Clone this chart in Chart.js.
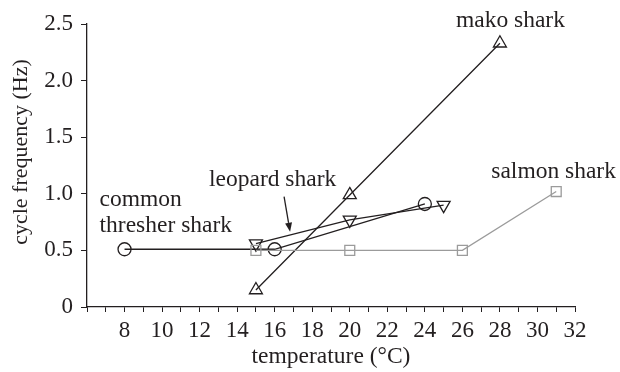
<!DOCTYPE html>
<html>
<head>
<meta charset="utf-8">
<script src="https://cdn.jsdelivr.net/npm/chart.js@4/dist/chart.umd.min.js"></script>
<style>
  html, body { margin: 0; padding: 0; background: #ffffff; }
  #wrap { width: 620px; height: 372px; }
</style>
</head>
<body>
<div id="wrap"><canvas id="c" width="620" height="372"></canvas></div>
<script>
// Swimming tail-beat frequency vs water temperature for four shark species
const threshTemp  = [8, 16, 24];
const threshFreq  = [0.51, 0.51, 0.91];
const leopardTemp = [15, 20, 25];
const leopardFreq = [0.56, 0.77, 0.90];
const makoTemp    = [15, 20, 28];
const makoFreq    = [0.15, 0.99, 2.33];
const salmonTemp  = [15, 20, 26, 31];
const salmonFreq  = [0.5, 0.5, 0.5, 1.02];

const yTickValues = [0, 0.5, 1.0, 1.5, 2.0, 2.5];
const yTickLabels = ['0', '0.5', '1.0', '1.5', '2.0', '2.5'];
const xLabelled   = [8, 10, 12, 14, 16, 18, 20, 22, 24, 26, 28, 30, 32];

const xTitle = 'temperature (°C)';
const yTitle = 'cycle frequency (Hz)';

// species labels, anchored in data units
const speciesLabels = [
  { text: 'mako shark',     x: 28.56, y: 2.47,  align: 'center' },
  { text: 'salmon shark',   x: 30.86, y: 1.14,  align: 'center' },
  { text: 'leopard shark',  x: 15.89, y: 1.07,  align: 'center' },
  { text: 'common',         x: 6.67,  y: 0.89,  align: 'left' },
  { text: 'thresher shark', x: 6.67,  y: 0.66,  align: 'left' }
];
// pointer from the leopard shark label to its line
const pointerFrom = { x: 16.50, y: 0.975 };
const pointerTo   = { x: 16.82, y: 0.665 };

const INK = '#231f20';
const GREY = '#9b9b9b';
const FONT = '"Liberation Serif", "Times New Roman", serif';
const LABEL_SIZE = 23.5;
const TICK_SIZE = 23;
const YTITLE_SIZE = 22;

function pts(xs, ys) { return xs.map((x, i) => ({ x: x, y: ys[i] })); }

function series(label, xs, ys, color, style, rot, radius) {
  return {
    label: label,
    data: pts(xs, ys),
    borderColor: color,
    borderWidth: 1.3,
    pointStyle: style,
    rotation: rot,
    pointRadius: radius,
    pointHoverRadius: radius,
    pointBorderColor: color,
    pointBackgroundColor: 'rgba(0,0,0,0)',
    pointBorderWidth: 1.3,
    showLine: true,
    fill: false,
    tension: 0
  };
}

const annotations = {
  id: 'annotations',
  afterDraw(chart) {
    const ctx = chart.ctx;
    const xs = chart.scales.x, ys = chart.scales.y;
    ctx.save();
    ctx.fillStyle = INK;
    ctx.font = LABEL_SIZE + 'px ' + FONT;
    ctx.textBaseline = 'alphabetic';
    speciesLabels.forEach(l => {
      ctx.textAlign = l.align;
      ctx.fillText(l.text, xs.getPixelForValue(l.x), ys.getPixelForValue(l.y));
    });

    // arrow
    const x0 = xs.getPixelForValue(pointerFrom.x), y0 = ys.getPixelForValue(pointerFrom.y);
    const x1 = xs.getPixelForValue(pointerTo.x),   y1 = ys.getPixelForValue(pointerTo.y);
    const ang = Math.atan2(y1 - y0, x1 - x0);
    const headLen = 9, headW = 3.5;
    const bx = x1 - Math.cos(ang) * headLen, by = y1 - Math.sin(ang) * headLen;
    ctx.strokeStyle = INK;
    ctx.lineWidth = 1.3;
    ctx.beginPath();
    ctx.moveTo(x0, y0);
    ctx.lineTo(bx, by);
    ctx.stroke();
    ctx.beginPath();
    ctx.moveTo(x1, y1);
    ctx.lineTo(bx + Math.sin(ang) * headW, by - Math.cos(ang) * headW);
    ctx.lineTo(bx - Math.sin(ang) * headW, by + Math.cos(ang) * headW);
    ctx.closePath();
    ctx.fill();

    // axis titles
    ctx.textAlign = 'center';
    ctx.textBaseline = 'middle';
    ctx.fillText(xTitle, (chart.chartArea.left + chart.chartArea.right) / 2, 357);
    ctx.font = YTITLE_SIZE + 'px ' + FONT;
    ctx.translate(21, 152);
    ctx.rotate(-Math.PI / 2);
    ctx.fillText(yTitle, 0, 0);
    ctx.restore();
  }
};

new Chart(document.getElementById('c'), {
  type: 'scatter',
  data: {
    datasets: [
      series('salmon shark', salmonTemp, salmonFreq, GREY, 'rect', 0, 7),
      series('common thresher shark', threshTemp, threshFreq, INK, 'circle', 0, 6.5),
      series('leopard shark', leopardTemp, leopardFreq, INK, 'triangle', 180, 7.5),
      series('mako shark', makoTemp, makoFreq, INK, 'triangle', 0, 7.5)
    ]
  },
  options: {
    responsive: false,
    animation: false,
    devicePixelRatio: 1,
    layout: { padding: { top: 24, right: 45, left: 0, bottom: 0 } },
    plugins: {
      legend: { display: false },
      tooltip: { enabled: false }
    },
    scales: {
      x: {
        type: 'linear',
        min: 6,
        max: 32,
        afterFit(scale) { scale.height = 65; },
        afterBuildTicks(scale) {
          const t = [];
          for (let v = 6; v <= 32; v++) t.push({ value: v });
          scale.ticks = t;
        },
        ticks: {
          autoSkip: false,
          maxRotation: 0,
          color: INK,
          padding: 5,
          font: { family: FONT, size: TICK_SIZE },
          callback: v => (xLabelled.includes(v) ? String(v) : '')
        },
        grid: {
          display: true,
          drawOnChartArea: false,
          drawTicks: true,
          tickLength: 5,
          color: INK,
          lineWidth: 1
        },
        border: { display: true, color: INK, width: 1.3 }
      },
      y: {
        type: 'linear',
        min: 0,
        max: 2.5,
        afterFit(scale) { scale.width = 87; },
        afterBuildTicks(scale) { scale.ticks = yTickValues.map(v => ({ value: v })); },
        ticks: {
          color: INK,
          padding: 8,
          font: { family: FONT, size: TICK_SIZE },
          callback: v => yTickLabels[yTickValues.indexOf(v)]
        },
        grid: {
          display: true,
          drawOnChartArea: false,
          drawTicks: true,
          tickLength: 6,
          color: INK,
          lineWidth: 1
        },
        border: { display: true, color: INK, width: 1.3 }
      }
    }
  },
  plugins: [annotations]
});
</script>
</body>
</html>
